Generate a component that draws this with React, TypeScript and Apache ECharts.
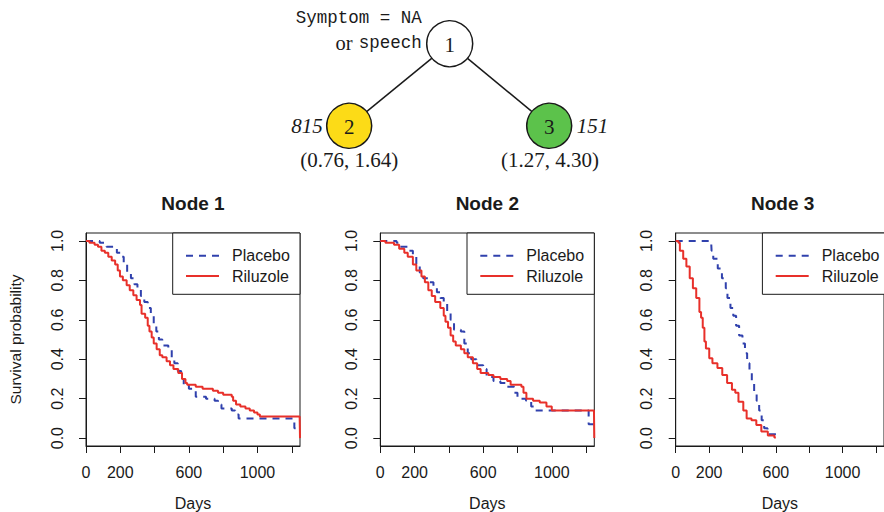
import React, { useEffect, useRef } from "react";
import * as echarts from "echarts";

// ---------- data ----------
const panelTitles = ["Node 1", "Node 2", "Node 3"];
const seriesNames = ["Placebo", "Riluzole"];
const xTicks = [0, 200, 400, 600, 800, 1000, 1200];
const xTickLabels = [0, 200, 600, 1000];
const yTicks = [0, 0.2, 0.4, 0.6, 0.8, 1.0];

// [days, survival probability] — Kaplan–Meier steps
const node1Placebo: [number, number][] = [
  [0, 1], [60, 1], [80, 0.99], [120, 0.97], [160, 0.96], [180, 0.94], [200, 0.92], [220, 0.88],
  [240, 0.84], [262, 0.81], [282, 0.78], [300, 0.76], [320, 0.72], [340, 0.69], [360, 0.66],
  [378, 0.62], [395, 0.58], [410, 0.54], [425, 0.5], [445, 0.47], [480, 0.45], [500, 0.41],
  [515, 0.38], [535, 0.34], [555, 0.3], [570, 0.27], [600, 0.25], [640, 0.21], [700, 0.2],
  [750, 0.19], [770, 0.17], [790, 0.15], [850, 0.14], [870, 0.12], [890, 0.1], [1200, 0.1],
  [1215, 0.05], [1248, 0.05],
];
const node1Riluzole: [number, number][] = [
  [0, 1], [20, 0.99], [50, 0.98], [70, 0.97], [90, 0.95], [110, 0.94], [130, 0.92], [150, 0.9],
  [170, 0.88], [185, 0.85], [198, 0.82], [215, 0.8], [237, 0.775], [255, 0.75], [276, 0.725],
  [295, 0.7], [315, 0.675], [324, 0.63], [345, 0.61], [360, 0.57], [370, 0.54], [383, 0.51],
  [395, 0.48], [412, 0.45], [430, 0.42], [445, 0.41], [470, 0.39], [490, 0.37], [510, 0.35],
  [538, 0.33], [560, 0.3], [580, 0.28], [590, 0.27], [640, 0.26], [680, 0.25], [740, 0.24],
  [770, 0.23], [800, 0.22], [850, 0.21], [858, 0.19], [875, 0.17], [900, 0.16], [930, 0.15],
  [955, 0.14], [980, 0.13], [1000, 0.12], [1014, 0.11], [1246, 0.11], [1248, 0],
];
const node2Placebo: [number, number][] = [
  [0, 1], [95, 0.99], [110, 0.97], [160, 0.95], [190, 0.92], [210, 0.88], [230, 0.84],
  [250, 0.81], [280, 0.79], [310, 0.77], [330, 0.74], [350, 0.71], [370, 0.68], [390, 0.64],
  [410, 0.6], [430, 0.55], [470, 0.54], [490, 0.48], [510, 0.43], [530, 0.4], [560, 0.37],
  [600, 0.35], [620, 0.31], [660, 0.29], [700, 0.28], [730, 0.26], [780, 0.23], [800, 0.2],
  [850, 0.19], [880, 0.16], [900, 0.14], [1205, 0.14], [1215, 0.07], [1248, 0.07],
];
const node2Riluzole: [number, number][] = [
  [0, 1], [30, 0.99], [80, 0.98], [110, 0.96], [140, 0.94], [160, 0.92], [190, 0.88],
  [210, 0.85], [240, 0.82], [260, 0.79], [280, 0.75], [300, 0.72], [320, 0.69], [350, 0.66],
  [370, 0.62], [380, 0.59], [395, 0.56], [410, 0.52], [425, 0.49], [440, 0.47], [470, 0.45],
  [490, 0.43], [510, 0.41], [540, 0.38], [565, 0.35], [585, 0.33], [630, 0.32], [660, 0.31],
  [700, 0.3], [740, 0.29], [760, 0.27], [823, 0.26], [835, 0.23], [852, 0.2], [891, 0.19],
  [930, 0.18], [969, 0.16], [1000, 0.14], [1246, 0.14], [1248, 0],
];
const node3Placebo: [number, number][] = [
  [0, 1], [212, 1], [215, 0.95], [225, 0.91], [252, 0.86], [277, 0.81], [300, 0.76], [310, 0.71],
  [328, 0.66], [345, 0.62], [362, 0.57], [380, 0.52], [400, 0.48], [415, 0.43], [428, 0.38],
  [442, 0.33], [456, 0.28], [470, 0.23], [485, 0.19], [500, 0.14], [515, 0.09], [530, 0.05],
  [550, 0.02], [620, 0.02],
];
const node3Riluzole: [number, number][] = [
  [0, 1], [16, 0.99], [25, 0.95], [45, 0.91], [64, 0.87], [84, 0.81], [103, 0.76], [123, 0.71],
  [142, 0.64], [152, 0.61], [162, 0.56], [172, 0.49], [181, 0.455], [201, 0.405], [220, 0.38],
  [250, 0.355], [279, 0.32], [308, 0.28], [337, 0.245], [357, 0.23], [376, 0.185], [405, 0.14],
  [425, 0.1], [454, 0.09], [483, 0.067], [513, 0.034], [552, 0.013], [591, 0.003], [600, 0],
];
const panelData = [
  [node1Placebo, node1Riluzole],
  [node2Placebo, node2Riluzole],
  [node3Placebo, node3Riluzole],
];

// ---------- styling / layout ----------
const SANS = "'Liberation Sans', Arial, Helvetica, sans-serif";
const SERIF = "'Liberation Serif', 'Times New Roman', serif";
const MONO = "'Liberation Mono', 'Courier New', monospace";
const INK = "#1a1a1a";
const BLUE = "#3041ad";
const RED = "#e8302a";
const YELLOW = "#fcdb17";
const GREEN = "#5cc24b";

const gridLefts = [86, 380.3, 675.7];
const gridTop = 233;
const gridW = 214;
const gridH = 214.7;

export default function App() {
  const ref = useRef<HTMLDivElement>(null);

  useEffect(() => {
    if (!ref.current) return;
    const chart = echarts.init(ref.current, undefined, { renderer: "svg" });

    const grids = gridLefts.map((l) => ({
      left: l,
      top: gridTop,
      width: gridW,
      height: gridH,
      show: true,
      borderColor: INK,
      borderWidth: 1,
      backgroundColor: "transparent",
    }));

    const xAxes = gridLefts.map((_, i) => ({
      gridIndex: i,
      type: "value",
      min: 0,
      max: 1248,
      name: "Days",
      nameLocation: "middle",
      nameGap: 49,
      nameTextStyle: { fontFamily: SANS, fontSize: 16, color: INK },
      axisLine: { show: true, onZero: false, lineStyle: { color: INK, width: 1 } },
      axisTick: { show: true, length: 7, customValues: xTicks, lineStyle: { color: INK } },
      axisLabel: {
        customValues: xTickLabels,
        margin: 18,
        fontFamily: SANS,
        fontSize: 16,
        color: INK,
        formatter: (v: number) => String(v),
      },
      splitLine: { show: false },
    }));

    const yAxes = gridLefts.map((_, i) => ({
      gridIndex: i,
      type: "value",
      min: -0.04,
      max: 1.04,
      name: i === 0 ? "Survival probability" : "",
      nameLocation: "middle",
      nameRotate: 90,
      nameGap: 63,
      nameTextStyle: { fontFamily: SANS, fontSize: 15.5, color: INK },
      axisLine: { show: true, onZero: false, lineStyle: { color: INK, width: 1 } },
      axisTick: { show: true, length: 7, customValues: yTicks, lineStyle: { color: INK } },
      axisLabel: {
        customValues: yTicks,
        rotate: 90,
        margin: 21,
        fontFamily: SANS,
        fontSize: 16,
        color: INK,
        formatter: (v: number) => v.toFixed(1),
      },
      splitLine: { show: false },
    }));

    const series: any[] = [];
    panelData.forEach((pair, i) => {
      series.push({
        name: seriesNames[0],
        type: "line",
        xAxisIndex: i,
        yAxisIndex: i,
        step: "end",
        symbol: "none",
        data: pair[0],
        lineStyle: { color: BLUE, width: 2, type: [7, 6] },
        itemStyle: { color: BLUE },
        z: 3,
      });
      series.push({
        name: seriesNames[1],
        type: "line",
        xAxisIndex: i,
        yAxisIndex: i,
        step: "end",
        symbol: "none",
        data: pair[1],
        lineStyle: { color: RED, width: 2 },
        itemStyle: { color: RED },
        z: 4,
      });
    });

    const legends = gridLefts.map((l) => ({
      data: seriesNames,
      orient: "vertical",
      left: l + 99,
      top: 247.7,
      padding: 0,
      itemWidth: 33,
      itemHeight: 14,
      itemGap: 4.3,
      selectedMode: false,
      itemStyle: { opacity: 0 },
      textStyle: {
        fontFamily: SANS,
        fontSize: 16,
        color: INK,
        lineHeight: 16,
        padding: [0, 0, 0, 8],
      },
    }));

    const titles = gridLefts.map((l, i) => ({
      text: panelTitles[i],
      left: l + gridW / 2,
      textAlign: "center",
      top: 194,
      padding: 0,
      textStyle: { fontFamily: SANS, fontSize: 19, fontWeight: "bold", color: INK },
    }));

    const legendBoxes = gridLefts.map((l) => ({
      type: "rect",
      shape: { x: l + 86.7, y: gridTop, width: 127.3, height: 61.3 },
      style: { fill: "#fff", stroke: INK, lineWidth: 1 },
      z: 1,
    }));

    const n1 = { x: 449.7, y: 43.7 };
    const n2 = { x: 349.2, y: 125.8 };
    const n3 = { x: 549.2, y: 125.8 };
    const nodeText = (p: { x: number; y: number }, t: string) => ({
      type: "text",
      x: p.x,
      y: p.y + 1,
      style: {
        text: t,
        fontFamily: SERIF,
        fontSize: 21,
        fill: INK,
        align: "center",
        verticalAlign: "middle",
      },
      z: 12,
    });

    const tree: any[] = [
      { type: "line", shape: { x1: n1.x, y1: n1.y, x2: n2.x, y2: n2.y }, style: { stroke: INK, lineWidth: 1.5 }, z: 10 },
      { type: "line", shape: { x1: n1.x, y1: n1.y, x2: n3.x, y2: n3.y }, style: { stroke: INK, lineWidth: 1.5 }, z: 10 },
      { type: "circle", shape: { cx: n1.x, cy: n1.y, r: 23 }, style: { fill: "#fff", stroke: INK, lineWidth: 1.5 }, z: 11 },
      { type: "circle", shape: { cx: n2.x, cy: n2.y, r: 22.5 }, style: { fill: YELLOW, stroke: INK, lineWidth: 1.5 }, z: 11 },
      { type: "circle", shape: { cx: n3.x, cy: n3.y, r: 22.5 }, style: { fill: GREEN, stroke: INK, lineWidth: 1.5 }, z: 11 },
      nodeText(n1, "1"),
      nodeText(n2, "2"),
      nodeText(n3, "3"),
      {
        type: "text",
        x: 421.7,
        y: 18.3,
        style: {
          text: "Symptom = NA",
          fontFamily: MONO,
          fontSize: 17.5,
          fill: INK,
          align: "right",
          verticalAlign: "middle",
        },
        z: 12,
      },
      {
        type: "text",
        x: 421.7,
        y: 43.3,
        style: {
          text: "{a|or}{b|speech}",
          align: "right",
          verticalAlign: "middle",
          fill: INK,
          rich: {
            a: { fontFamily: SERIF, fontSize: 20.5, fill: INK, padding: [0, 6, 0, 0] },
            b: { fontFamily: MONO, fontSize: 17.5, fill: INK },
          },
        },
        z: 12,
      },
      {
        type: "text",
        x: 322.7,
        y: 126,
        style: { text: "815", fontFamily: SERIF, fontStyle: "italic", fontSize: 21, fill: INK, align: "right", verticalAlign: "middle" },
        z: 12,
      },
      {
        type: "text",
        x: 576.7,
        y: 126,
        style: { text: "151", fontFamily: SERIF, fontStyle: "italic", fontSize: 21, fill: INK, align: "left", verticalAlign: "middle" },
        z: 12,
      },
      {
        type: "text",
        x: 349.2,
        y: 160,
        style: { text: "(0.76, 1.64)", fontFamily: SERIF, fontSize: 21, fill: INK, align: "center", verticalAlign: "middle" },
        z: 12,
      },
      {
        type: "text",
        x: 550,
        y: 160,
        style: { text: "(1.27, 4.30)", fontFamily: SERIF, fontSize: 21, fill: INK, align: "center", verticalAlign: "middle" },
        z: 12,
      },
    ];

    chart.setOption({
      animation: false,
      backgroundColor: "#fff",
      title: titles,
      grid: grids,
      xAxis: xAxes,
      yAxis: yAxes,
      legend: legends,
      series,
      graphic: [...legendBoxes, ...tree],
    });

    return () => chart.dispose();
  }, []);

  return (
    <div
      ref={ref}
      style={{ position: "absolute", left: 0, top: 0, width: 884, height: 512 }}
    />
  );
}
